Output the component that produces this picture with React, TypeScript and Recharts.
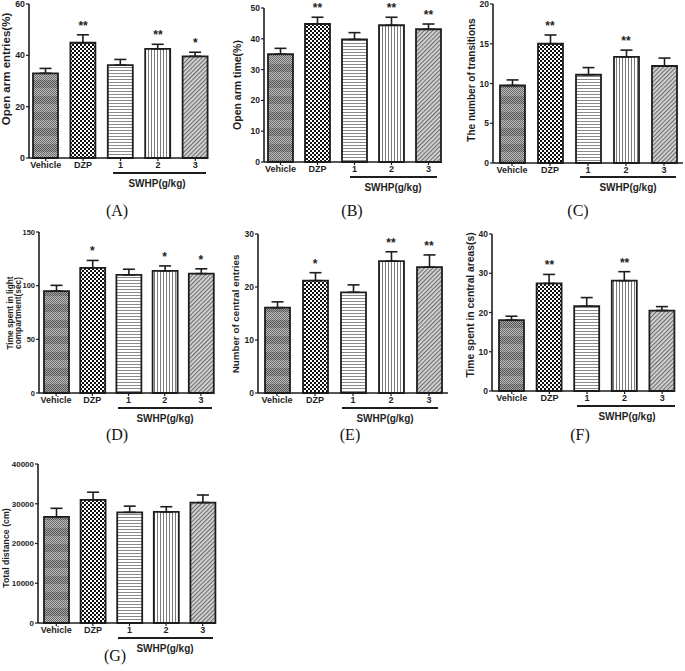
import { ComposedChart, Bar, ErrorBar, Scatter, XAxis, YAxis, Cell } from 'recharts'

const W = 685
const H = 671

const groups = ['Vehicle', 'DZP', '1', '2', '3']
const fills = ['url(#pVeh)', 'url(#pDzp)', 'url(#pHor)', 'url(#pVer)', 'url(#pDia)']

// (A) open arm entries
const entriesMean = [33, 44.9, 36.2, 42.5, 39.6]
const entriesSem = [1.9, 3.1, 2.2, 1.8, 1.6]
const entriesSig = ['', '**', '', '**', '*']
const entriesTicks = [0, 20, 40, 60]

// (B) open arm time
const timeMean = [35, 44.8, 39.8, 44.4, 43.1]
const timeSem = [1.9, 2.2, 2.2, 2.6, 1.7]
const timeSig = ['', '**', '', '**', '**']
const timeTicks = [0, 10, 20, 30, 40, 50]

// (C) transitions
const transMean = [9.75, 15, 11.1, 13.35, 12.2]
const transSem = [0.7, 1.1, 0.9, 0.85, 1.0]
const transSig = ['', '**', '', '**', '']
const transTicks = [0, 5, 10, 15, 20]

// (D) light compartment
const lightMean = [95, 116.5, 110, 113.8, 111.2]
const lightSem = [5.3, 7, 5.3, 4.6, 4.5]
const lightSig = ['', '*', '', '*', '*']
const lightTicks = [0, 50, 100, 150]

// (E) central entries
const centralMean = [16.1, 21.2, 19.0, 24.9, 23.75]
const centralSem = [1.1, 1.5, 1.4, 1.75, 2.3]
const centralSig = ['', '*', '', '**', '**']
const centralTicks = [0, 10, 20, 30]

// (F) time in central areas
const areaMean = [18.05, 27.4, 21.6, 28.1, 20.5]
const areaSem = [1.0, 2.3, 2.2, 2.3, 1.0]
const areaSig = ['', '**', '', '**', '']
const areaTicks = [0, 10, 20, 30, 40]

// (G) total distance
const distMean = [26700, 30950, 27850, 27950, 30300]
const distSem = [2150, 1950, 1550, 1300, 1900]
const distSig = ['', '', '', '', '']
const distTicks = [0, 10000, 20000, 30000, 40000]

const panels = [
  { mean: entriesMean, sem: entriesSem, sig: entriesSig, ticks: entriesTicks, box: [29, 208, 4, 158], pad: [-2, -6], tf: 8.8 },
  { mean: timeMean, sem: timeSem, sig: timeSig, ticks: timeTicks, box: [264, 442, 8, 162], pad: [-2, -5], tf: 8.5 },
  { mean: transMean, sem: transSem, sig: transSig, ticks: transTicks, box: [493, 683, 4, 163], pad: [0, 0], tf: 8.5 },
  { mean: lightMean, sem: lightSem, sig: lightSig, ticks: lightTicks, box: [39, 213, 232, 393], pad: [-1, -6], tf: 7.5 },
  { mean: centralMean, sem: centralSem, sig: centralSig, ticks: centralTicks, box: [258, 448, 234, 393], pad: [0, 0], tf: 8.5 },
  { mean: areaMean, sem: areaSem, sig: areaSig, ticks: areaTicks, box: [492, 675, 234, 391], pad: [1, -6], tf: 8.5 },
  { mean: distMean, sem: distSem, sig: distSig, ticks: distTicks, box: [38, 213, 464, 623], pad: [0, -8], tf: 8 },
]

// annotation layout: y label lines, swhp underline, panel letter
const notes = [
  { ylab: ['Open arm entries(%)'], yx: 6, yy: 69, ys: 11.5, line: [113, 206, 173], swhp: [157, 183], letter: ['(A)', 117, 210] },
  { ylab: ['Open arm time(%)'], yx: 237, yy: 85, ys: 10.5, line: [350, 437, 177], swhp: [393, 187], letter: ['(B)', 352, 210] },
  { ylab: ['The number of transitions'], yx: 471, yy: 80, ys: 10, line: [580, 676, 177], swhp: [628, 187], letter: ['(C)', 578, 210] },
  { ylab: ['Time spent in light', 'compartment(sec)'], yx: 10, yy: 313, ys: 8.3, line: [118, 212, 408], swhp: [165, 418], letter: ['(D)', 117, 434] },
  { ylab: ['Number of central entries'], yx: 235, yy: 314, ys: 9.8, line: [342, 438, 408], swhp: [385, 418], letter: ['(E)', 350, 434] },
  { ylab: ['Time spent in central areas(s)'], yx: 470, yy: 305, ys: 10.3, line: [577, 675, 406], swhp: [627, 416], letter: ['(F)', 580, 434] },
  { ylab: ['Total distance (cm)'], yx: 6, yy: 548, ys: 8.8, line: [118, 213, 638], swhp: [165, 648], letter: ['(G)', 115, 655] },
]

const ink = '#1e1e1e'
const xh = 16

function StarShape(props: any) {
  const { cx, cy, payload } = props
  if (!payload || !payload.sig || cy == null || isNaN(cy)) return <g />
  return (
    <text x={cx} y={Math.max(cy - 5, 10)} textAnchor="middle" fontSize={12} fontWeight="bold" fill={ink}>
      {payload.sig}
    </text>
  )
}

function Panel({ p }: { p: any }) {
  const [left, right, top, bottom] = p.box
  const data = groups.map((g, i) => ({
    group: g,
    mean: p.mean[i],
    err: [0, p.sem[i]],
    top: p.sig[i] ? p.mean[i] + p.sem[i] : null,
    sig: p.sig[i],
  }))
  const yw = 20
  return (
    <div style={{ position: 'absolute', left: 0, top: 0 }}>
      <ComposedChart
        width={W}
        height={H}
        data={data}
        margin={{ top, bottom: H - bottom - xh, left: left - yw, right: W - right }}
      >
        <XAxis
          dataKey="group"
          height={xh}
          interval={0}
          padding={{ left: p.pad[0], right: p.pad[1] }}
          tick={{ fontSize: 9, fontWeight: 'bold', fill: ink }}
          tickSize={3}
          tickMargin={1}
          tickLine={{ stroke: ink, strokeWidth: 1.2 }}
          axisLine={{ stroke: ink, strokeWidth: 1.6 }}
        />
        <YAxis
          width={yw}
          domain={[0, p.ticks[p.ticks.length - 1]]}
          ticks={p.ticks}
          interval={0}
          tick={{ fontSize: p.tf, fontWeight: 'bold', fill: ink }}
          tickSize={3}
          tickMargin={1}
          tickLine={{ stroke: ink, strokeWidth: 1.2 }}
          axisLine={{ stroke: ink, strokeWidth: 1.6 }}
        />
        <Bar dataKey="mean" barSize={25} stroke={ink} strokeWidth={1.8} isAnimationActive={false}>
          {data.map((d, i) => (
            <Cell key={d.group} fill={fills[i]} />
          ))}
          <ErrorBar dataKey="err" width={6} stroke={ink} strokeWidth={1.6} direction="y" />
        </Bar>
        <Scatter dataKey="top" isAnimationActive={false} shape={(s: any) => <StarShape {...s} />} />
      </ComposedChart>
    </div>
  )
}

function Patterns() {
  const vehCells = []
  for (let r = 0; r < 16; r++) {
    for (let c = 0; c < 2; c++) {
      if ((r + c) % 2 === 0) {
        vehCells.push(<rect key={r + '-' + c} x={c} y={r} width={1} height={1} fill={r < 8 ? '#555' : '#6a6a6a'} />)
      }
    }
  }
  return (
    <svg width={0} height={0} style={{ position: 'absolute' }}>
      <defs>
        <pattern id="pVeh" width={2} height={16} patternUnits="userSpaceOnUse">
          <rect x={0} y={0} width={2} height={8} fill="#a4a4a4" />
          <rect x={0} y={8} width={2} height={8} fill="#bdbdbd" />
          {vehCells}
        </pattern>
        <pattern id="pDzp" width={4} height={4} patternUnits="userSpaceOnUse">
          <rect x={0} y={0} width={4} height={4} fill="#ffffff" />
          <rect x={0} y={0} width={2} height={2} fill="#111" />
          <rect x={2} y={2} width={2} height={2} fill="#111" />
        </pattern>
        <pattern id="pHor" width={3} height={3} patternUnits="userSpaceOnUse">
          <rect x={0} y={0} width={3} height={3} fill="#ffffff" />
          <rect x={0} y={1} width={3} height={1} fill="#8a8a8a" />
        </pattern>
        <pattern id="pVer" width={3} height={3} patternUnits="userSpaceOnUse">
          <rect x={0} y={0} width={3} height={3} fill="#ffffff" />
          <rect x={1} y={0} width={1} height={3} fill="#7a7a7a" />
        </pattern>
        <pattern id="pDia" width={3} height={3} patternUnits="userSpaceOnUse" patternTransform="rotate(45)">
          <rect x={0} y={0} width={3} height={3} fill="#d8d8d8" />
          <rect x={0} y={0} width={1.2} height={3} fill="#6e6e6e" />
        </pattern>
      </defs>
    </svg>
  )
}

function Notes() {
  return (
    <svg width={W} height={H} style={{ position: 'absolute', left: 0, top: 0, pointerEvents: 'none' }}>
      {notes.map((n, k) => (
        <g key={k}>
          {n.ylab.map((t, j) => {
            const x = n.yx + j * n.ys
            return (
              <text
                key={j}
                x={x}
                y={n.yy}
                transform={`rotate(-90, ${x}, ${n.yy})`}
                textAnchor="middle"
                dominantBaseline="central"
                fontSize={n.ys}
                fontWeight="bold"
                fill={ink}
              >
                {t}
              </text>
            )
          })}
          <line x1={n.line[0]} x2={n.line[1]} y1={n.line[2]} y2={n.line[2]} stroke={ink} strokeWidth={1.8} />
          <text x={n.swhp[0]} y={n.swhp[1]} textAnchor="middle" dominantBaseline="central" fontSize={10} fontWeight="bold" fill={ink}>
            SWHP(g/kg)
          </text>
          <text
            x={n.letter[1] as number}
            y={n.letter[2] as number}
            textAnchor="middle"
            dominantBaseline="central"
            fontSize={16}
            fontFamily="'Liberation Serif', 'DejaVu Serif', serif"
            fill="#111"
          >
            {n.letter[0]}
          </text>
        </g>
      ))}
    </svg>
  )
}

export default function App() {
  return (
    <div
      style={{
        position: 'absolute',
        left: 0,
        top: 0,
        width: W,
        height: H,
        background: '#fff',
        overflow: 'hidden',
        fontFamily: "'Liberation Sans', Arial, sans-serif",
      }}
    >
      <Patterns />
      {panels.map((p, i) => (
        <Panel key={i} p={p} />
      ))}
      <Notes />
    </div>
  )
}
